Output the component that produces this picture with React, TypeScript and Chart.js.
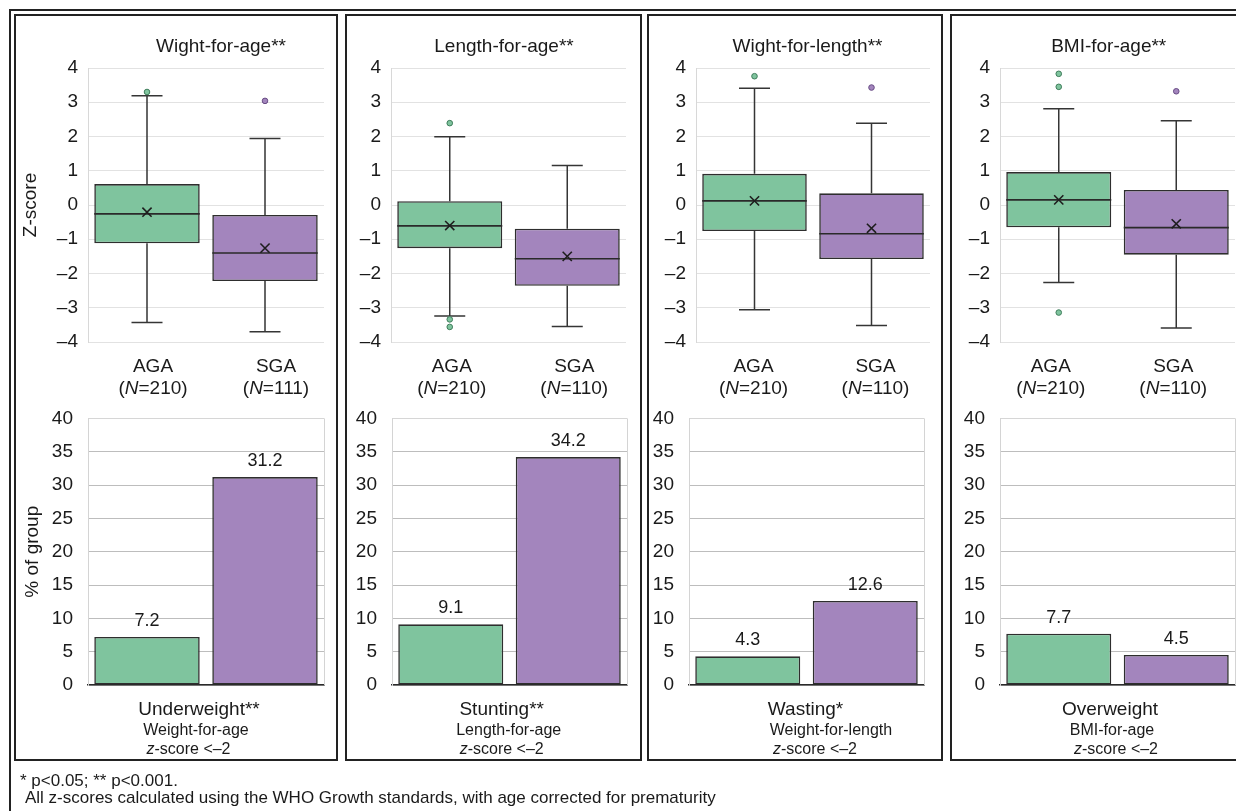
import React, { useEffect, useRef } from 'react';
import { Chart, registerables } from 'chart.js';

Chart.register(...registerables);

const FONT = '"Liberation Sans", Arial, Helvetica, sans-serif';
Chart.defaults.font.family = FONT;
Chart.defaults.color = '#1a1a1a';

// ---------------- data ----------------
const groups = ['AGA', 'SGA'];
const panelTitles = ['Wight-for-age**', 'Length-for-age**', 'Wight-for-length**', 'BMI-for-age**'];
const groupN = [[210, 111], [210, 110], [210, 110], [210, 110]];

const zMin = [[-3.43, -3.70], [-3.24, -3.55], [-3.06, -3.52], [-2.26, -3.59]];
const zQ1 = [[-1.12, -2.22], [-1.26, -2.36], [-0.76, -1.58], [-0.65, -1.45]];
const zMedian = [[-0.26, -1.40], [-0.61, -1.57], [0.12, -0.84], [0.15, -0.66]];
const zMean = [[-0.21, -1.26], [-0.60, -1.50], [0.12, -0.68], [0.15, -0.55]];
const zQ3 = [[0.61, -0.29], [0.11, -0.69], [0.91, 0.34], [0.96, 0.44]];
const zMax = [[3.19, 1.94], [1.99, 1.15], [3.41, 2.39], [2.81, 2.46]];
const zOutliers = [
  [[3.30], [3.04]],
  [[2.39, -3.34, -3.56], []],
  [[3.76], [3.43]],
  [[3.83, 3.45, -3.14], [3.32]],
];

const pctBelow = [[7.2, 31.2], [9.1, 34.2], [4.3, 12.6], [7.7, 4.5]];
const outcomeNames = ['Underweight**', 'Stunting**', 'Wasting*', 'Overweight'];
const outcomeIndex = ['Weight-for-age', 'Length-for-age', 'Weight-for-length', 'BMI-for-age'];
const outcomeCut = ['z', '-score <\u20132'];

const zTickLabels = ['\u20134', '\u20133', '\u20132', '\u20131', '0', '1', '2', '3', '4'];
const pctTickLabels = ['0', '5', '10', '15', '20', '25', '30', '35', '40'];
const yTitles = ['Z-score', '% of group'];
const footnotes = [
  '* p<0.05; ** p<0.001.',
  'All z-scores calculated using the WHO Growth standards, with age corrected for prematurity',
];

// ---------------- styles / layout ----------------
const INK = '#1a1a1a';
const EDGE = '#2e2e2e';
const groupFill = ['#7fc49e', '#a385bd'];
const outlierEdge = ['#3f7d5b', '#684c84'];

const panelFrames = [
  { left: 14, width: 324 },
  { left: 345, width: 297 },
  { left: 647, width: 296 },
  { left: 950, width: 300 },
];
const boxPlotX = [[88, 324], [391, 626], [696, 930], [1000, 1235]];
const barPlotX = [[88, 324], [392, 627], [689, 924], [1000, 1235]];
const titleCx = [221, 504, 807.5, 1108.7];
const catShift = [[6, 11], [2, 7], [-1, 4], [-8, -3]];
const outcomeCx = [
  [199, 196, 188.5],
  [501.7, 508.7, 501.7],
  [805.5, 831, 815],
  [1110, 1112, 1116],
];

const PANEL_TOP = 14;
const PANEL_H = 747;
const BOX_CANVAS_TOP = 14;
const BOX_CANVAS_H = 386;
const BOX_TOP = 68;
const BOX_BOTTOM = 342;
const BAR_CANVAS_TOP = 392;
const BAR_CANVAS_H = 368;
const BAR_TOP = 409;
const BAR_BOTTOM = 685;

type Part = [string, boolean];

function drawRich(ctx: CanvasRenderingContext2D, parts: Part[], cx: number, y: number, size: number) {
  const fontOf = (it: boolean) => `${it ? 'italic ' : ''}${size}px ${FONT}`;
  let total = 0;
  const widths = parts.map(([t, it]) => {
    ctx.font = fontOf(it);
    const w = ctx.measureText(t).width;
    total += w;
    return w;
  });
  let x = cx - total / 2;
  ctx.textAlign = 'left';
  ctx.textBaseline = 'alphabetic';
  parts.forEach(([t, it], k) => {
    ctx.font = fontOf(it);
    ctx.fillText(t, x, y);
    x += widths[k];
  });
}

function makeBoxConfig(p: number): any {
  const frame = panelFrames[p];
  const [pl, pr] = boxPlotX[p];
  const outlierPoints: { x: string; y: number }[] = [];
  zOutliers[p].forEach((vals, g) => vals.forEach((v) => outlierPoints.push({ x: groups[g], y: v })));

  const boxPlugin = {
    id: 'boxExtras' + p,
    beforeDatasetsDraw(chart: any) {
      const { ctx } = chart;
      const xs = chart.scales.x;
      const ys = chart.scales.y;
      ctx.save();
      ctx.strokeStyle = '#353535';
      ctx.lineWidth = 1.5;
      groups.forEach((_, i) => {
        const cx = xs.getPixelForValue(i);
        const cap = 15.5;
        const yQ3 = ys.getPixelForValue(zQ3[p][i]);
        const yMax = ys.getPixelForValue(zMax[p][i]);
        const yQ1 = ys.getPixelForValue(zQ1[p][i]);
        const yMin = ys.getPixelForValue(zMin[p][i]);
        ctx.beginPath();
        ctx.moveTo(cx, yQ3); ctx.lineTo(cx, yMax);
        ctx.moveTo(cx - cap, yMax); ctx.lineTo(cx + cap, yMax);
        ctx.moveTo(cx, yQ1); ctx.lineTo(cx, yMin);
        ctx.moveTo(cx - cap, yMin); ctx.lineTo(cx + cap, yMin);
        ctx.stroke();
      });
      ctx.restore();
    },
    afterDatasetDraw(chart: any, args: any) {
      if (args.index !== 2) return;
      const { ctx } = chart;
      const ys = chart.scales.y;
      const meta = chart.getDatasetMeta(2);
      ctx.save();
      ctx.strokeStyle = '#2a2a2a';
      ctx.lineWidth = 1.6;
      meta.data.forEach((el: any, i: number) => {
        const half = el.width / 2;
        const y = ys.getPixelForValue(zMedian[p][i]);
        ctx.beginPath();
        ctx.moveTo(el.x - half, y);
        ctx.lineTo(el.x + half, y);
        ctx.stroke();
      });
      ctx.restore();
    },
    afterDraw(chart: any) {
      const { ctx } = chart;
      const xs = chart.scales.x;
      ctx.save();
      ctx.fillStyle = INK;
      ctx.font = `19px ${FONT}`;
      ctx.textAlign = 'center';
      ctx.textBaseline = 'alphabetic';
      ctx.fillText(panelTitles[p], titleCx[p] - frame.left, 52 - BOX_CANVAS_TOP);
      groups.forEach((g, i) => {
        const cx = xs.getPixelForValue(i) + catShift[p][i];
        ctx.font = `19px ${FONT}`;
        ctx.textAlign = 'center';
        ctx.fillText(g, cx, 372 - BOX_CANVAS_TOP);
        drawRich(ctx, [['(', false], ['N', true], ['=' + groupN[p][i] + ')', false]], cx, 394 - BOX_CANVAS_TOP, 19);
      });
      ctx.restore();
    },
  };

  return {
    type: 'bar',
    data: {
      labels: groups,
      datasets: [
        {
          type: 'line',
          data: zMean[p],
          showLine: false,
          pointStyle: 'crossRot',
          pointRadius: 6.5,
          pointBorderColor: '#1e1e1e',
          pointBorderWidth: 1.6,
          pointBackgroundColor: 'rgba(0,0,0,0)',
        },
        {
          type: 'line',
          data: outlierPoints,
          showLine: false,
          pointStyle: 'circle',
          pointRadius: 2.8,
          pointBorderWidth: 1,
          pointBackgroundColor: (c: any) => groupFill[Math.max(0, groups.indexOf(c.raw?.x))],
          pointBorderColor: (c: any) => outlierEdge[Math.max(0, groups.indexOf(c.raw?.x))],
        },
        {
          type: 'bar',
          data: groups.map((_, i) => [zQ1[p][i], zQ3[p][i]]),
          backgroundColor: groupFill,
          borderColor: EDGE,
          borderWidth: 1.6,
          borderSkipped: false,
          categoryPercentage: 1,
          barPercentage: 0.8936,
        },
      ],
    },
    options: {
      responsive: false,
      animation: false,
      events: [],
      layout: { padding: { top: BOX_TOP - BOX_CANVAS_TOP, right: frame.left + frame.width - pr, left: 0, bottom: 0 } },
      plugins: { legend: { display: false }, tooltip: { enabled: false }, title: { display: false } },
      scales: {
        x: {
          type: 'category',
          offset: true,
          grid: { display: false, drawTicks: false },
          border: { display: false },
          ticks: { display: false },
          afterFit: (s: any) => { s.height = BOX_CANVAS_TOP + BOX_CANVAS_H - BOX_BOTTOM; },
        },
        y: {
          min: -4,
          max: 4,
          ticks: {
            stepSize: 1,
            padding: 10,
            color: INK,
            font: { family: FONT, size: 19 },
            callback: (_v: any, i: number) => zTickLabels[i],
          },
          grid: { color: '#e2e2e2', drawTicks: false, lineWidth: 1 },
          border: { display: true, color: '#d8d8d8', width: 1 },
          title: {
            display: p === 0,
            text: yTitles[0],
            color: INK,
            font: { family: FONT, size: 19 },
            padding: { top: 5, bottom: 0 },
          },
          afterFit: (s: any) => { s.width = pl - frame.left; },
        },
      },
    },
    plugins: [boxPlugin],
  };
}

function makeBarConfig(p: number): any {
  const frame = panelFrames[p];
  const [pl, pr] = barPlotX[p];

  const barPlugin = {
    id: 'barExtras' + p,
    beforeDatasetsDraw(chart: any) {
      const { ctx, chartArea } = chart;
      ctx.save();
      ctx.strokeStyle = '#d4d4d4';
      ctx.lineWidth = 1;
      ctx.beginPath();
      ctx.moveTo(Math.round(chartArea.right) + 0.5, chartArea.top);
      ctx.lineTo(Math.round(chartArea.right) + 0.5, chartArea.bottom);
      ctx.stroke();
      ctx.restore();
    },
    afterDatasetsDraw(chart: any) {
      const { ctx } = chart;
      const meta = chart.getDatasetMeta(0);
      ctx.save();
      ctx.fillStyle = INK;
      ctx.font = `18px ${FONT}`;
      ctx.textAlign = 'center';
      ctx.textBaseline = 'alphabetic';
      meta.data.forEach((el: any, i: number) => {
        ctx.fillText(pctBelow[p][i].toFixed(1), el.x, el.y - 11);
      });
      ctx.restore();
    },
    afterDraw(chart: any) {
      const { ctx } = chart;
      ctx.save();
      ctx.fillStyle = INK;
      ctx.textAlign = 'center';
      ctx.textBaseline = 'alphabetic';
      ctx.font = `19px ${FONT}`;
      ctx.fillText(outcomeNames[p], outcomeCx[p][0] - frame.left, 715 - BAR_CANVAS_TOP);
      ctx.font = `16px ${FONT}`;
      ctx.fillText(outcomeIndex[p], outcomeCx[p][1] - frame.left, 734.5 - BAR_CANVAS_TOP);
      drawRich(ctx, [[outcomeCut[0], true], [outcomeCut[1], false]], outcomeCx[p][2] - frame.left, 753.5 - BAR_CANVAS_TOP, 16);
      ctx.restore();
    },
  };

  return {
    type: 'bar',
    data: {
      labels: groups,
      datasets: [
        {
          data: pctBelow[p],
          backgroundColor: groupFill,
          borderColor: EDGE,
          borderWidth: 1.6,
          borderSkipped: false,
          categoryPercentage: 1,
          barPercentage: 0.8936,
        },
      ],
    },
    options: {
      responsive: false,
      animation: false,
      events: [],
      layout: { padding: { top: BAR_TOP - BAR_CANVAS_TOP, right: frame.left + frame.width - pr, left: 0, bottom: 0 } },
      plugins: { legend: { display: false }, tooltip: { enabled: false }, title: { display: false } },
      scales: {
        x: {
          type: 'category',
          offset: true,
          grid: { display: false, drawTicks: false },
          border: { display: true, color: '#2a2a2a', width: 1.5 },
          ticks: { display: false },
          afterFit: (s: any) => { s.height = BAR_CANVAS_TOP + BAR_CANVAS_H - BAR_BOTTOM; },
        },
        y: {
          min: 0,
          max: 40,
          ticks: {
            stepSize: 5,
            padding: 15,
            color: INK,
            font: { family: FONT, size: 19 },
            callback: (_v: any, i: number) => pctTickLabels[i],
          },
          grid: {
            color: (c: any) => (c.tick && c.tick.value === 40 ? '#d6d6d6' : '#bdbdbd'),
            drawTicks: false,
            lineWidth: 1,
          },
          border: { display: true, color: '#d4d4d4', width: 1 },
          title: {
            display: p === 0,
            text: yTitles[1],
            color: INK,
            font: { family: FONT, size: 19 },
            padding: { top: 7, bottom: 0 },
          },
          afterFit: (s: any) => { s.width = pl - frame.left; },
        },
      },
    },
    plugins: [barPlugin],
  };
}

function Panel({ p }: { p: number }) {
  const boxRef = useRef<HTMLCanvasElement>(null);
  const barRef = useRef<HTMLCanvasElement>(null);
  const frame = panelFrames[p];

  useEffect(() => {
    const boxChart = new Chart(boxRef.current as HTMLCanvasElement, makeBoxConfig(p));
    const barChart = new Chart(barRef.current as HTMLCanvasElement, makeBarConfig(p));
    return () => {
      boxChart.destroy();
      barChart.destroy();
    };
  }, [p]);

  return (
    <>
      <div
        style={{
          position: 'absolute',
          left: frame.left,
          top: PANEL_TOP,
          width: frame.width,
          height: PANEL_H,
          border: '2px solid #222',
          boxSizing: 'border-box',
        }}
      />
      <canvas
        ref={boxRef}
        width={frame.width}
        height={BOX_CANVAS_H}
        style={{ position: 'absolute', left: frame.left, top: BOX_CANVAS_TOP, width: frame.width, height: BOX_CANVAS_H }}
      />
      <canvas
        ref={barRef}
        width={frame.width}
        height={BAR_CANVAS_H}
        style={{ position: 'absolute', left: frame.left, top: BAR_CANVAS_TOP, width: frame.width, height: BAR_CANVAS_H }}
      />
    </>
  );
}

export default function App() {
  return (
    <div
      style={{
        position: 'absolute',
        left: 0,
        top: 0,
        width: 1236,
        height: 811,
        overflow: 'hidden',
        background: '#fff',
        fontFamily: FONT,
        color: INK,
      }}
    >
      <div
        style={{
          position: 'absolute',
          left: 9,
          top: 9,
          width: 1260,
          height: 830,
          border: '2px solid #222',
          boxSizing: 'border-box',
        }}
      />
      {panelTitles.map((_, p) => (
        <Panel key={p} p={p} />
      ))}
      <div style={{ position: 'absolute', left: 20, top: 771, fontSize: 17, lineHeight: '20px', whiteSpace: 'nowrap' }}>
        {footnotes[0]}
      </div>
      <div style={{ position: 'absolute', left: 25, top: 788, fontSize: 17, lineHeight: '20px', whiteSpace: 'nowrap' }}>
        {footnotes[1]}
      </div>
    </div>
  );
}
